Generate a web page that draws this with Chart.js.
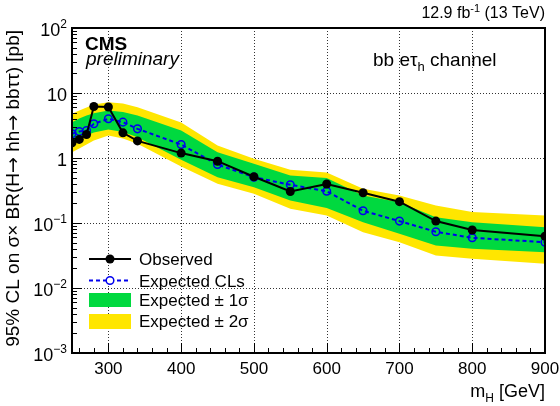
<!DOCTYPE html>
<html>
<head>
<meta charset="utf-8">
<script src="https://cdn.jsdelivr.net/npm/chart.js@4.4.0/dist/chart.umd.min.js"></script>
<style>
  html, body { margin: 0; padding: 0; background: #fff; }
  canvas { display: block; }
</style>
</head>
<body>
<canvas id="limitChart" width="560" height="406"></canvas>
<script>
// ==================== DATA ====================
// Resonance mass points (GeV)
const masses = [250, 260, 270, 280, 300, 320, 340, 400, 450, 500, 550, 600, 650, 700, 750, 800, 900];

// 95% CL limits (pb)
const observed = [1.71, 1.93, 2.30, 6.20, 6.09, 2.44, 1.83, 1.19, 0.893, 0.515, 0.305, 0.398, 0.292, 0.213, 0.107, 0.078, 0.0626];
const expected = [2.36, 2.56, 2.65, 3.36, 4.01, 3.56, 2.81, 1.61, 0.794, 0.507, 0.387, 0.308, 0.154, 0.107, 0.0732, 0.0592, 0.0507];

// Expected bands
const plus2 = [4.79, 5.38, 5.98, 6.65, 7.22, 6.89, 6.05, 3.52, 1.56, 0.972, 0.658, 0.598, 0.336, 0.265, 0.186, 0.147, 0.130];
const plus1 = [3.56, 4.05, 4.51, 4.89, 5.38, 5.10, 4.51, 2.65, 1.23, 0.814, 0.538, 0.492, 0.265, 0.209, 0.123, 0.103, 0.0861];
const minus1 = [1.65, 1.93, 2.22, 2.47, 2.74, 2.51, 2.09, 0.938, 0.507, 0.356, 0.222, 0.170, 0.103, 0.0682, 0.0451, 0.0401, 0.0356];
const minus2 = [1.23, 1.40, 1.61, 1.86, 2.22, 2.00, 1.65, 0.74, 0.401, 0.281, 0.165, 0.130, 0.0722, 0.0507, 0.0316, 0.0281, 0.0236];

// Axis ticks
const xTicks = [300, 400, 500, 600, 700, 800, 900];
const yTickValues = [1e-3, 1e-2, 1e-1, 1, 10, 100];
const yTickLabels = [['10', '\u22123'], ['10', '\u22122'], ['10', '\u22121'], ['1', ''], ['10', ''], ['10', '2']];

// Theme colours
const colors = {
    obs: '#000000',
    exp: '#0000ee',
    green: '#00d93f',
    yellow: '#ffe600',
    grid: '#333333'
};
const FONT = "'Liberation Sans', Arial, Helvetica, sans-serif";
const ARROW_FONT = "'DejaVu Sans', sans-serif";

const toPoints = arr => masses.map((m, i) => ({ x: m, y: arr[i] }));

// ==================== HELPERS ====================
// draws a sequence of [text, size, dy, style, family] pieces starting at x
function drawPieces(ctx, pieces, x, y, align) {
    const fontOf = p => `${p[3] || ''} ${p[1]}px ${p[4] || FONT}`;
    let total = 0;
    pieces.forEach(p => { ctx.font = fontOf(p); total += ctx.measureText(p[0]).width; });
    let cx = align === 'right' ? x - total : x;
    ctx.textAlign = 'left';
    pieces.forEach(p => {
        ctx.font = fontOf(p);
        ctx.fillText(p[0], cx, y + (p[2] || 0));
        cx += ctx.measureText(p[0]).width;
    });
}

function seg(ctx, x1, y1, x2, y2) {
    ctx.beginPath(); ctx.moveTo(x1, y1); ctx.lineTo(x2, y2); ctx.stroke();
}

// ==================== ROOT-STYLE AXES PLUGIN ====================
const rootAxes = {
    id: 'rootAxes',
    beforeDatasetsDraw(chart) {
        const { ctx, chartArea: a, scales: { x, y } } = chart;
        ctx.save();
        ctx.strokeStyle = colors.grid;
        ctx.lineWidth = 1;
        ctx.setLineDash([1, 2]);
        xTicks.forEach(v => {
            const px = Math.round(x.getPixelForValue(v)) + 0.5;
            seg(ctx, px, a.top, px, a.bottom);
        });
        yTickValues.forEach(v => {
            const py = Math.round(y.getPixelForValue(v)) + 0.5;
            seg(ctx, a.left, py, a.right, py);
        });
        ctx.restore();
    },
    afterDraw(chart) {
        const { ctx, chartArea: a, scales: { x, y } } = chart;
        ctx.save();
        ctx.strokeStyle = '#000';
        ctx.fillStyle = '#000';
        ctx.setLineDash([]);

        // tick marks (inside the frame)
        ctx.lineWidth = 1;
        for (let m = 260; m <= 900; m += 20) {
            const px = Math.round(x.getPixelForValue(m)) + 0.5;
            seg(ctx, px, a.bottom, px, a.bottom - (m % 100 === 0 ? 10 : 5));
        }
        for (let d = -3; d <= 1; d++) {
            for (let k = 1; k <= 9; k++) {
                const py = Math.round(y.getPixelForValue(k * Math.pow(10, d))) + 0.5;
                seg(ctx, a.left, py, a.left + (k === 1 ? 10 : 5), py);
            }
        }

        // frame
        ctx.lineWidth = 2;
        ctx.strokeRect(a.left, a.top, a.right - a.left, a.bottom - a.top);

        // x tick labels
        ctx.font = `17px ${FONT}`;
        ctx.textAlign = 'center';
        ctx.textBaseline = 'alphabetic';
        xTicks.forEach(v => ctx.fillText(String(v), x.getPixelForValue(v), 374));

        // y tick labels
        yTickValues.forEach((v, i) => {
            const py = y.getPixelForValue(v);
            const [base, sup] = yTickLabels[i];
            drawPieces(ctx, [[base, 18, 0], [sup, 12, -8]], 67, py + 8, 'right');
        });

        // x title
        drawPieces(ctx, [['m', 18, 0], ['H', 12, 5], [' [GeV]', 18, 0]], 545, 397, 'right');

        // y title
        ctx.save();
        ctx.translate(19, 30);
        ctx.rotate(-Math.PI / 2);
        drawPieces(ctx, [
            ['95% CL on \u03c3\u00d7 BR(H', 19, 0],
            ['\u2192', 19, 0, '', ARROW_FONT],
            [' hh', 19, 0],
            ['\u2192', 19, 0, '', ARROW_FONT],
            [' bb\u03c4\u03c4) [pb]', 19, 0]
        ], 0, 0, 'right');
        ctx.restore();

        // header texts
        drawPieces(ctx, [['12.9 fb', 16, 0], ['-1', 11, -6], [' (13 TeV)', 16, 0]], 545, 18, 'right');
        drawPieces(ctx, [['CMS', 19, 0, 'bold']], 85, 50, 'left');
        drawPieces(ctx, [['preliminary', 19, 0, 'italic']], 86, 65, 'left');
        drawPieces(ctx, [['bb e\u03c4', 19, 0], ['h', 13, 5], [' channel', 19, 0]], 373, 66, 'left');

        // legend
        const lx1 = 89, lx2 = 131, lmid = 110, tx = 139;
        ctx.lineWidth = 2;
        ctx.strokeStyle = colors.obs;
        seg(ctx, lx1, 259, lx2, 259);
        ctx.beginPath(); ctx.arc(lmid, 259, 4.5, 0, Math.PI * 2); ctx.fill();

        ctx.strokeStyle = colors.exp;
        ctx.setLineDash([4, 3]);
        seg(ctx, lx1, 280.5, lx2, 280.5);
        ctx.setLineDash([]);
        ctx.lineWidth = 1.5;
        ctx.fillStyle = '#fff';
        ctx.beginPath(); ctx.arc(lmid, 280.5, 3.8, 0, Math.PI * 2); ctx.fill(); ctx.stroke();

        ctx.fillStyle = colors.green;
        ctx.fillRect(lx1, 293, lx2 - lx1, 14);
        ctx.fillStyle = colors.yellow;
        ctx.fillRect(lx1, 314, lx2 - lx1, 15);

        ctx.fillStyle = '#000';
        ctx.font = `17px ${FONT}`;
        ctx.textAlign = 'left';
        ctx.fillText('Observed', tx, 265);
        ctx.fillText('Expected CLs', tx, 286.5);
        ctx.fillText('Expected \u00b1 1\u03c3', tx, 306);
        ctx.fillText('Expected \u00b1 2\u03c3', tx, 327);
        ctx.restore();
    }
};

// ==================== CHART ====================
new Chart(document.getElementById('limitChart'), {
    type: 'line',
    data: {
        datasets: [
            {
                label: 'Observed',
                data: toPoints(observed),
                borderColor: colors.obs,
                backgroundColor: colors.obs,
                borderWidth: 2,
                pointRadius: 4.5,
                pointBorderWidth: 0,
                fill: false,
                order: 0
            },
            {
                label: 'Expected CLs',
                data: toPoints(expected),
                borderColor: colors.exp,
                backgroundColor: 'rgba(0,0,0,0)',
                borderWidth: 2,
                borderDash: [4, 3],
                pointRadius: 3.8,
                pointBorderWidth: 1.5,
                pointBorderColor: colors.exp,
                fill: false,
                order: 1
            },
            {
                label: '+1 sigma',
                data: toPoints(plus1),
                borderWidth: 0,
                pointRadius: 0,
                backgroundColor: colors.green,
                fill: '+1',
                order: 2
            },
            {
                label: '-1 sigma',
                data: toPoints(minus1),
                borderWidth: 0,
                pointRadius: 0,
                fill: false,
                order: 3
            },
            {
                label: '+2 sigma',
                data: toPoints(plus2),
                borderWidth: 0,
                pointRadius: 0,
                backgroundColor: colors.yellow,
                fill: '+1',
                order: 4
            },
            {
                label: '-2 sigma',
                data: toPoints(minus2),
                borderWidth: 0,
                pointRadius: 0,
                fill: false,
                order: 5
            }
        ]
    },
    options: {
        responsive: false,
        animation: false,
        layout: { padding: { left: 72, right: 15, top: 28, bottom: 53 } },
        plugins: { legend: { display: false }, tooltip: { enabled: false } },
        elements: { line: { tension: 0 } },
        scales: {
            x: { type: 'linear', min: 250, max: 900, display: false },
            y: { type: 'logarithmic', min: 1e-3, max: 100, display: false }
        }
    },
    plugins: [rootAxes]
});
</script>
</body>
</html>
